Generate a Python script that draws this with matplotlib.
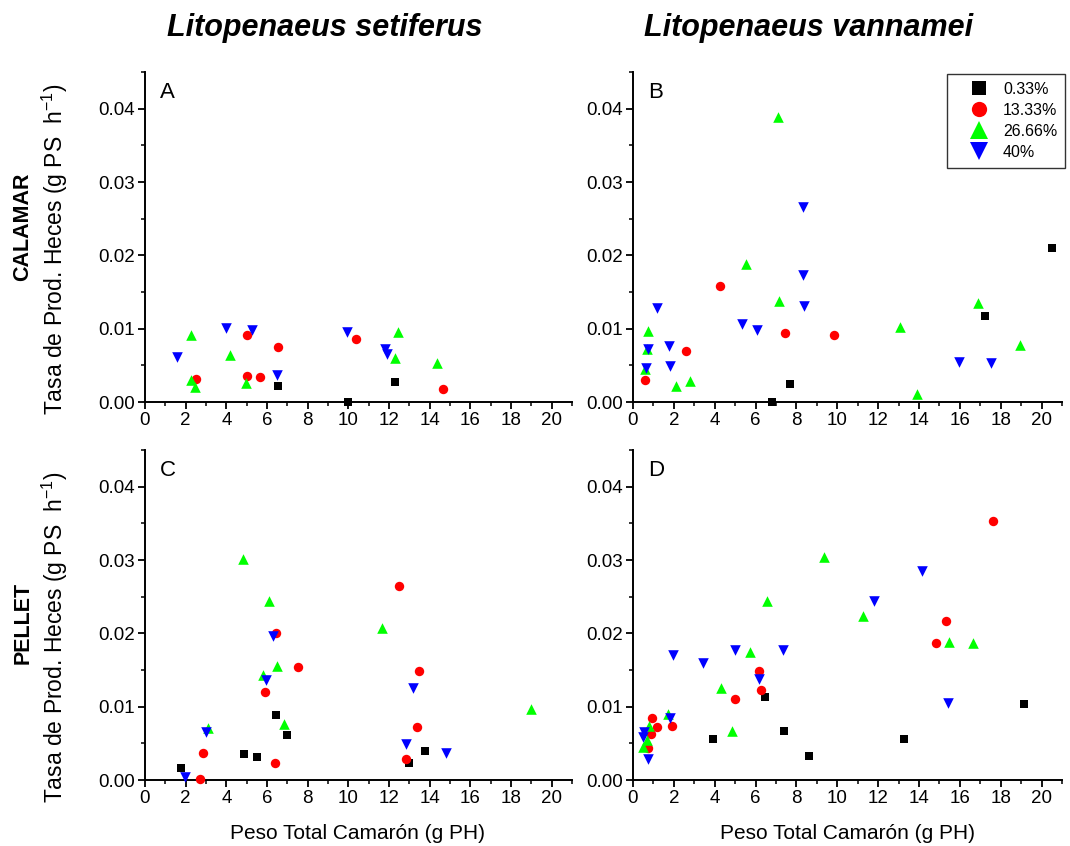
import matplotlib
matplotlib.use("Agg")
import matplotlib.pyplot as plt
from matplotlib.ticker import MultipleLocator, FormatStrFormatter
from matplotlib.lines import Line2D

plt.rcParams['font.family'] = ['Liberation Sans', 'DejaVu Sans']
plt.rcParams['mathtext.fontset'] = 'custom'
plt.rcParams['mathtext.rm'] = 'Liberation Sans'
plt.rcParams['mathtext.it'] = 'Liberation Sans:italic'

series_labels = ["0.33%", "13.33%", "26.66%", "40%"]
x_ticks = [0, 2, 4, 6, 8, 10, 12, 14, 16, 18, 20]
y_ticks = [0.00, 0.01, 0.02, 0.03, 0.04]

# Panel A  (L. setiferus, CALAMAR)
a_033_x = [6.55, 9.99, 12.28]
a_033_y = [0.0022, 0.0000, 0.0027]
a_1333_x = [2.53, 5.04, 5.01, 5.65, 6.55, 10.37, 14.68]
a_1333_y = [0.00315, 0.0091, 0.0035, 0.00338, 0.00753, 0.00863, 0.00178]
a_2666_x = [2.27, 2.27, 2.47, 4.16, 4.96, 12.42, 12.31, 14.35]
a_2666_y = [0.0091, 0.0030, 0.0021, 0.0064, 0.00265, 0.0096, 0.0060, 0.0053]
a_40_x = [1.57, 3.98, 5.24, 6.47, 9.91, 11.82, 11.90]
a_40_y = [0.00616, 0.0101, 0.0098, 0.00365, 0.00954, 0.00717, 0.0066]

# Panel B  (L. vannamei, CALAMAR)
b_033_x = [6.80, 7.69, 17.25, 20.52]
b_033_y = [0.0000, 0.0024, 0.0117, 0.0210]
b_1333_x = [0.61, 2.59, 4.28, 7.44, 9.85]
b_1333_y = [0.00305, 0.0069, 0.01576, 0.0094, 0.0092]
b_2666_x = [0.74, 0.67, 0.61, 2.11, 2.80, 5.52, 7.08, 7.13, 13.08, 13.88, 16.90, 18.93]
b_2666_y = [0.00966, 0.0072, 0.0045, 0.0022, 0.0028, 0.01886, 0.0389, 0.0138, 0.0102, 0.0011, 0.01348, 0.0078]
b_40_x = [0.72, 0.62, 1.18, 1.74, 1.79, 5.34, 6.05, 8.30, 8.33, 8.36, 15.95, 17.50]
b_40_y = [0.00729, 0.00465, 0.01285, 0.0076, 0.0049, 0.0106, 0.0098, 0.0266, 0.01727, 0.01308, 0.0054, 0.0053]

# Panel C  (L. setiferus, PELLET)
c_033_x = [1.78, 4.88, 5.49, 6.43, 7.00, 13.00, 13.78]
c_033_y = [0.00164, 0.0036, 0.00314, 0.00886, 0.00614, 0.0023, 0.0039]
c_1333_x = [12.49, 6.45, 7.54, 5.89, 13.49, 13.37, 12.82, 2.87, 2.71, 6.38]
c_1333_y = [0.02645, 0.0201, 0.0154, 0.0120, 0.01486, 0.00727, 0.0029, 0.00364, 0.0001, 0.00236]
c_2666_x = [4.83, 6.12, 11.66, 5.80, 6.50, 6.86, 3.10, 18.99]
c_2666_y = [0.0302, 0.0244, 0.0207, 0.01427, 0.0155, 0.0076, 0.0071, 0.00964]
c_40_x = [6.29, 5.96, 3.00, 1.96, 13.19, 12.83, 14.81]
c_40_y = [0.01964, 0.0136, 0.0066, 0.0004, 0.0126, 0.0049, 0.0037]

# Panel D  (L. vannamei, PELLET)
d_033_x = [6.46, 3.90, 7.38, 8.62, 13.28, 19.13]
d_033_y = [0.01127, 0.0056, 0.0067, 0.0033, 0.0056, 0.0103]
d_1333_x = [17.60, 15.34, 14.82, 6.16, 6.25, 4.97, 0.95, 1.16, 1.90, 0.87, 0.74]
d_1333_y = [0.0353, 0.02167, 0.01873, 0.01484, 0.0123, 0.0110, 0.00846, 0.0072, 0.0074, 0.0063, 0.0043]
d_2666_x = [9.33, 6.57, 11.25, 15.46, 16.66, 5.74, 4.33, 4.84, 1.72, 0.77, 0.70, 0.49]
d_2666_y = [0.0304, 0.0244, 0.0224, 0.0188, 0.01864, 0.0175, 0.0126, 0.00665, 0.0090, 0.0074, 0.0055, 0.0045]
d_40_x = [14.15, 11.80, 4.98, 7.36, 1.95, 3.44, 6.15, 15.44, 1.82, 0.54, 0.51, 0.72]
d_40_y = [0.02846, 0.0244, 0.01778, 0.01778, 0.01706, 0.0160, 0.0138, 0.01054, 0.0084, 0.0066, 0.0058, 0.0028]

colors = ["#000000", "#FF0000", "#00FF00", "#0000FF"]
markers = ["s", "o", "^", "v"]
sizes = [36, 46, 58, 58]

panels = [
    ("A", [(a_033_x, a_033_y), (a_1333_x, a_1333_y), (a_2666_x, a_2666_y), (a_40_x, a_40_y)]),
    ("B", [(b_033_x, b_033_y), (b_1333_x, b_1333_y), (b_2666_x, b_2666_y), (b_40_x, b_40_y)]),
    ("C", [(c_033_x, c_033_y), (c_1333_x, c_1333_y), (c_2666_x, c_2666_y), (c_40_x, c_40_y)]),
    ("D", [(d_033_x, d_033_y), (d_1333_x, d_1333_y), (d_2666_x, d_2666_y), (d_40_x, d_40_y)]),
]

W, H = 1070, 846
fig = plt.figure(figsize=(W / 100, H / 100), dpi=100)

def rect(left, right, top, bottom):
    return [left / W, 1 - bottom / H, (right - left) / W, (bottom - top) / H]

rects = [rect(145, 572, 72, 402), rect(633, 1062, 72, 402),
         rect(145, 572, 450, 780), rect(633, 1062, 450, 780)]

axes = []
for (label, data), r in zip(panels, rects):
    ax = fig.add_axes(r)
    for (xs, ys), c, m, s in zip(data, colors, markers, sizes):
        ax.scatter(xs, ys, c=c, marker=m, s=s, linewidths=0, clip_on=False, zorder=3)
    ax.set_xlim(0, 21)
    ax.set_ylim(0, 0.045)
    ax.set_xticks(x_ticks)
    ax.set_yticks(y_ticks)
    ax.xaxis.set_minor_locator(MultipleLocator(1))
    ax.yaxis.set_minor_locator(MultipleLocator(0.005))
    ax.yaxis.set_major_formatter(FormatStrFormatter('%.2f'))
    for side in ["top", "right"]:
        ax.spines[side].set_visible(False)
    for side in ["left", "bottom"]:
        ax.spines[side].set_linewidth(1.4)
    ax.tick_params(which='major', direction='out', length=5, width=1.3, labelsize=13.5, pad=2)
    ax.tick_params(which='minor', direction='out', length=3, width=1.1)
    ax.text(15 / 427, 1 - 10 / 330, label, transform=ax.transAxes, fontsize=16, va='top', ha='left')
    axes.append(ax)

# legend in panel B
handles = [Line2D([], [], linestyle='none', marker=m, color=c, markersize=ms, markeredgewidth=0)
           for c, m, ms in zip(colors, markers, [9.5, 11, 13.5, 13.5])]
leg = fig.legend(handles, series_labels, loc='upper left',
                 bbox_to_anchor=(947 / W, 1 - 74 / H), bbox_transform=fig.transFigure,
                 frameon=True, fancybox=False, edgecolor='black', fontsize=11.5,
                 handletextpad=0.0, borderpad=0.5, labelspacing=0.37, handlelength=3.0,
                 borderaxespad=0)
leg.get_frame().set_linewidth(1.0)

# titles
fig.text(325 / W, 1 - 28 / H, "Litopenaeus setiferus", fontsize=22, fontweight='bold',
         fontstyle='italic', ha='center', va='center')
fig.text(809 / W, 1 - 28 / H, "Litopenaeus vannamei", fontsize=22, fontweight='bold',
         fontstyle='italic', ha='center', va='center')

# row labels
ylab = r"Tasa de Prod. Heces (g PS  h$^{-1}$)"
fig.text(23 / W, 1 - 227 / H, "CALAMAR", rotation=90, fontsize=15.5, fontweight='bold',
         ha='center', va='center')
fig.text(55 / W, 1 - 249 / H, ylab, rotation=90, fontsize=16.5, ha='center', va='center')
fig.text(23 / W, 1 - 623 / H, "PELLET", rotation=90, fontsize=15.5, fontweight='bold',
         ha='center', va='center')
fig.text(55 / W, 1 - 637 / H, ylab, rotation=90, fontsize=16.5, ha='center', va='center')

# x labels
fig.text(358 / W, 1 - 833 / H, "Peso Total Camarón (g PH)", fontsize=15, ha='center', va='center')
fig.text(847 / W, 1 - 833 / H, "Peso Total Camarón (g PH)", fontsize=15, ha='center', va='center')

fig.savefig("out.png", dpi=100)
